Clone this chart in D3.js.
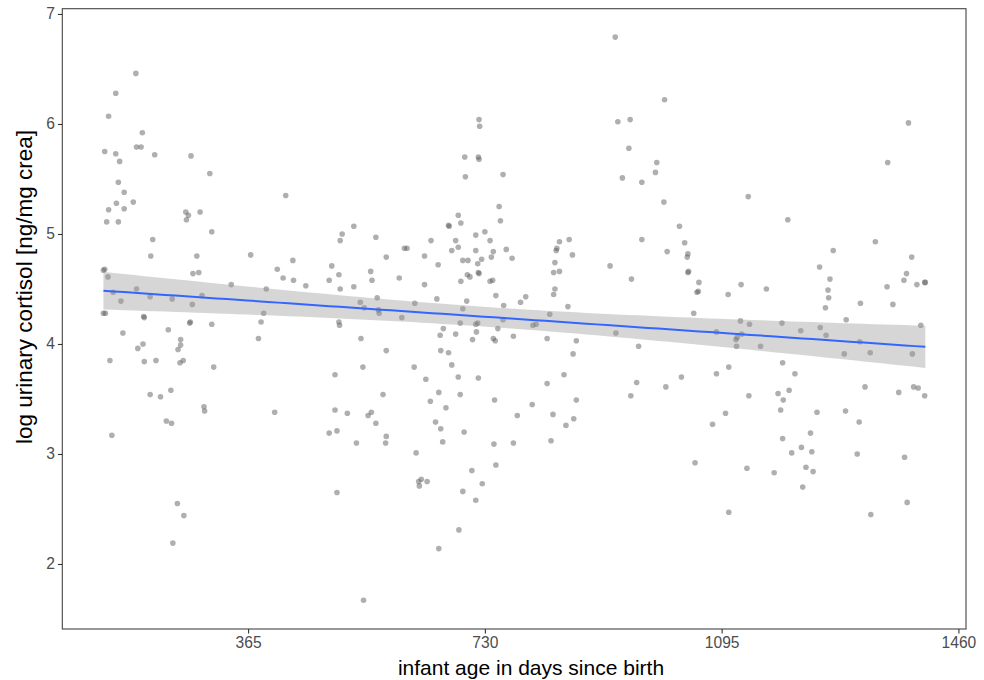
<!DOCTYPE html>
<html>
<head>
<meta charset="utf-8">
<script src="https://cdn.jsdelivr.net/npm/d3@7"></script>
<style>
  body { margin: 0; background: #fff; }
  svg { display: block; font-family: "Liberation Sans", Arial, sans-serif; }
</style>
</head>
<body>
<svg id="chart" width="984" height="680"></svg>
<script>
// infant age (days) and log urinary cortisol
var ageDays = [
  192,161,150,202,144,161,167,193,200,221,
  277,306,165,174,162,174,150,188,147,165,
  423,269,273,270,291,309,218,215,286,369,
  434,410,419,435,142,144,149,280,289,339,
  157,193,169,214,248,279,294,393,142,145,
  204,205,389,385,275,276,309,172,242,381,
  261,203,261,195,257,152,205,223,265,260,
  312,214,230,246,297,298,406,239,247,155,
  256,266,249,699,720,721,700,758,752,754,
  689,674,675,693,528,510,507,562,647,685,
  716,730,738,606,610,679,689,716,743,740,
  763,772,578,637,696,704,725,719,658,494,
  454,505,490,554,556,507,528,598,637,703,
  707,720,721,738,742,693,747,793,785,759,
  564,538,544,566,567,622,656,702,696,602,
  692,716,719,758,505,506,666,661,685,717,
  711,750,743,746,774,539,578,662,674,499,
  542,621,679,639,689,720,573,659,692,646,
  670,745,499,518,550,555,562,654,662,780,
  490,502,532,578,577,665,698,744,774,624,
  710,747,726,696,716,628,632,641,629,502,
  690,659,543,721,722,931,1007,935,954,952,
  995,993,942,972,1006,1136,1030,1038,1043,1042,
  1043,1044,1060,1057,1059,1052,972,1011,923,956,
  845,860,841,840,865,838,836,845,838,836,
  858,830,804,809,826,871,932,967,1087,1105,
  1125,1124,1138,1126,1119,1117,1118,1155,866,852,
  826,803,871,835,867,855,832,964,955,1009,
  1033,1087,1106,1137,1101,1081,1054,1134,1106,1383,
  1351,1197,1332,1267,1246,1388,1380,1376,1396,1408,
  1409,1350,1359,1262,1259,1260,1255,1309,1164,1287,
  1188,1217,1247,1256,1402,1308,1284,1324,1389,1189,
  1208,1316,1368,1391,1398,1408,1182,1199,1190,1186,
  1242,1286,1307,1232,1189,1218,1203,1234,1304,1377,
  1225,1236,1176,1220,1381,1325
];
var logCortisol = [
  6.46,6.28,6.07,5.92,5.75,5.73,5.66,5.79,5.79,5.72,
  5.71,5.55,5.47,5.38,5.28,5.23,5.22,5.29,5.11,5.11,
  5.35,5.20,5.17,5.13,5.20,5.02,4.95,4.80,4.80,4.81,
  4.76,4.68,4.60,4.58,4.67,4.68,4.61,4.64,4.65,4.54,
  4.47,4.50,4.39,4.43,4.41,4.36,4.44,4.50,4.28,4.28,
  4.25,4.24,4.28,4.20,4.19,4.20,4.18,4.10,4.13,4.05,
  4.04,4.00,3.99,3.96,3.95,3.85,3.84,3.85,3.85,3.83,
  3.79,3.54,3.52,3.58,3.43,3.39,3.38,3.30,3.28,3.17,
  2.55,2.44,2.19,5.70,5.70,5.68,5.52,5.54,5.25,5.12,
  5.17,5.08,5.07,5.10,5.07,5.00,4.94,4.97,4.94,4.94,
  4.99,5.02,4.94,4.87,4.87,4.85,4.88,4.85,4.84,4.79,
  4.86,4.78,4.79,4.80,4.76,4.76,4.77,4.73,4.72,4.71,
  4.53,4.63,4.58,4.66,4.58,4.50,4.52,4.60,4.54,4.63,
  4.61,4.65,4.64,4.57,4.58,4.57,4.44,4.43,4.38,4.35,
  4.42,4.38,4.33,4.31,4.28,4.37,4.41,4.39,4.32,4.24,
  4.19,4.18,4.19,4.22,4.20,4.17,4.14,4.08,4.09,4.11,
  4.04,4.14,4.05,4.03,4.07,4.05,3.94,3.94,3.92,3.72,
  3.79,3.79,3.81,3.68,3.70,3.69,3.54,3.56,3.54,3.48,
  3.42,3.49,3.40,3.37,3.35,3.38,3.28,3.29,3.23,3.35,
  3.19,3.21,3.10,3.16,3.10,3.11,3.20,3.09,3.10,3.01,
  2.85,2.90,2.73,2.66,2.58,2.75,2.77,2.75,2.71,2.65,
  2.31,2.14,1.67,6.04,5.98,6.79,6.22,6.02,6.04,5.78,
  5.65,5.56,5.51,5.47,5.29,5.34,5.07,4.92,4.82,4.79,
  4.65,4.66,4.56,4.47,4.48,4.28,4.95,4.84,4.71,4.59,
  4.93,4.95,4.87,4.85,4.81,4.74,4.65,4.66,4.50,4.45,
  4.34,4.27,4.17,4.18,4.05,4.03,4.10,3.98,4.11,4.45,
  4.54,4.21,4.18,4.09,4.06,4.04,3.98,3.98,3.91,3.72,
  3.64,3.45,3.49,3.36,3.32,3.26,3.12,3.65,3.53,3.61,
  3.70,3.73,3.79,3.53,3.37,3.27,2.92,2.87,2.47,6.01,
  5.65,5.13,4.93,4.85,4.70,4.79,4.64,4.58,4.54,4.56,
  4.56,4.52,4.36,4.59,4.49,4.42,4.33,4.37,4.50,4.22,
  4.19,4.12,4.15,4.08,4.17,4.02,3.91,3.92,3.91,3.83,
  3.73,3.61,3.56,3.61,3.60,3.53,3.55,3.58,3.49,3.40,
  3.38,3.39,3.29,3.19,3.14,3.06,3.01,3.02,3.00,2.97,
  2.88,2.84,2.83,2.70,2.56,2.45
];
var xTicks = [365, 730, 1095, 1460];
var yTicks = [2, 3, 4, 5, 6, 7];

var svg = d3.select("#chart");
var panel = {left: 62.3, right: 966, top: 8.7, bottom: 629};

var x = d3.scaleLinear().domain([78.6, 1471.7]).range([panel.left, panel.right]);
var y = d3.scaleLinear().domain([1.409, 7.048]).range([panel.bottom, panel.top]);

var pts = ageDays.map(function(d, i) { return {x: d, y: logCortisol[i]}; });

// linear fit + 95% band (like geom_smooth(method = "lm"))
var n = pts.length,
    mx = d3.mean(pts, function(d) { return d.x; }),
    my = d3.mean(pts, function(d) { return d.y; });
var sxx = d3.sum(pts, function(d) { return (d.x - mx) * (d.x - mx); }),
    sxy = d3.sum(pts, function(d) { return (d.x - mx) * (d.y - my); });
var b = sxy / sxx, a = my - b * mx;
var sse = d3.sum(pts, function(d) { var r = d.y - (a + b * d.x); return r * r; });
var s = Math.sqrt(sse / (n - 2)), tq = 1.967;
var x0 = d3.min(ageDays), x1 = d3.max(ageDays);
var fit = d3.range(0, 81).map(function(k) {
  var xv = x0 + (x1 - x0) * k / 80;
  var se = s * Math.sqrt(1 / n + (xv - mx) * (xv - mx) / sxx);
  var yh = a + b * xv;
  return {x: xv, y: yh, lo: yh - tq * se, hi: yh + tq * se};
});

svg.append("g").selectAll("circle")
  .data(pts)
  .enter().append("circle")
    .attr("cx", function(d) { return x(d.x); })
    .attr("cy", function(d) { return y(d.y); })
    .attr("r", 2.8)
    .attr("fill", "#585858")
    .attr("fill-opacity", 0.48);

svg.append("path")
  .datum(fit)
  .attr("fill", "#999999")
  .attr("fill-opacity", 0.4)
  .attr("d", d3.area()
    .x(function(d) { return x(d.x); })
    .y0(function(d) { return y(d.lo); })
    .y1(function(d) { return y(d.hi); }));

svg.append("path")
  .datum(fit)
  .attr("fill", "none")
  .attr("stroke", "#3366FF")
  .attr("stroke-width", 2)
  .attr("d", d3.line()
    .x(function(d) { return x(d.x); })
    .y(function(d) { return y(d.y); }));

// panel border
svg.append("rect")
  .attr("x", panel.left).attr("y", panel.top)
  .attr("width", panel.right - panel.left).attr("height", panel.bottom - panel.top)
  .attr("fill", "none")
  .attr("stroke", "#444")
  .attr("stroke-width", 1.1);

var gx = svg.append("g")
  .attr("transform", "translate(0," + panel.bottom + ")")
  .call(d3.axisBottom(x).tickValues(xTicks).tickSize(4.4).tickPadding(4).tickFormat(d3.format("d")));
var gy = svg.append("g")
  .attr("transform", "translate(" + panel.left + ",0)")
  .call(d3.axisLeft(y).tickValues(yTicks).tickSize(4.4).tickPadding(3).tickFormat(d3.format("d")));

[gx, gy].forEach(function(g) {
  g.select(".domain").remove();
  g.selectAll(".tick line").attr("stroke", "#333").attr("stroke-width", 1.1);
  g.selectAll(".tick text")
    .attr("fill", "#4d4d4d")
    .style("font-size", "15.6px")
    .style("font-family", "'Liberation Sans', Arial, sans-serif");
});

svg.append("text")
  .attr("x", 531).attr("y", 675)
  .attr("text-anchor", "middle")
  .style("font-size", "21px")
  .text("infant age in days since birth");

svg.append("text")
  .attr("transform", "translate(32,287) rotate(-90)")
  .attr("text-anchor", "middle")
  .style("font-size", "22.5px")
  .text("log urinary cortisol [ng/mg crea]");
</script>
</body>
</html>
